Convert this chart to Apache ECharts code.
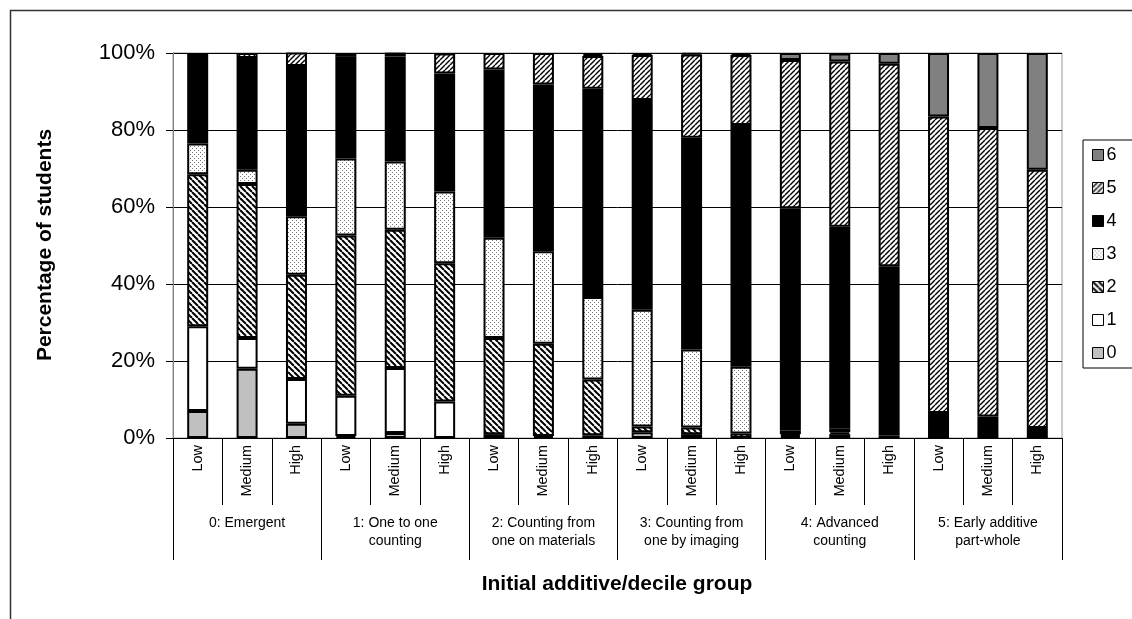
<!DOCTYPE html>
<html><head><meta charset="utf-8">
<script src="https://cdn.jsdelivr.net/npm/echarts@6/dist/echarts.min.js"></script>
<style>html,body{margin:0;padding:0;background:#fff}#c{width:1132px;height:619px}</style>
</head><body><div id="c"></div>
<script>
const categories = ["Low","Medium","High","Low","Medium","High","Low","Medium","High","Low","Medium","High","Low","Medium","High","Low","Medium","High"];
const groups = ["0: Emergent","1: One to one\ncounting","2: Counting from\none on materials","3: Counting from\none by imaging","4: Advanced\ncounting","5: Early additive\npart-whole"];
const seriesNames = ["0","1","2","3","4","5","6"];
const s0 = [7, 18, 3.7, 0.5, 1.3, 0, 0, 0, 0, 1.5, 1, 0, 0.5, 1, 0, 0, 0, 0];
const s1 = [22, 8, 11.6, 10.5, 16.9, 9.5, 1, 0.5, 0.7, 0, 0, 0, 0, 0, 0, 0, 0, 0];
const s2 = [39.5, 40, 27.1, 41.6, 35.9, 35.9, 25, 24, 14.5, 1.5, 1.7, 1.2, 0.5, 0.5, 0, 0, 0, 0];
const s3 = [8, 3.7, 15.2, 20, 17.7, 18.6, 26, 24, 21.4, 30.3, 20.3, 17.3, 1, 1, 0.7, 0, 0, 0];
const s4 = [23.5, 29, 39, 26.4, 27.3, 30.7, 43.7, 43.3, 54.1, 54.5, 55, 62.8, 57.7, 52.4, 43.9, 6.5, 5.6, 2.6];
const s5 = [0, 1.3, 3.5, 1, 1, 5.2, 4.3, 8.2, 8.5, 11.7, 21.6, 18.2, 38.5, 42.9, 52.6, 77, 74.9, 67.1];
const s6 = [0, 0, 0, 0, 0, 0, 0, 0, 0.5, 0.5, 0.4, 0.5, 1.8, 2.1, 2.8, 16.5, 19.5, 30.3];
const yTicks = [0, 20, 40, 60, 80, 100];

function tile(size, draw) {
  const c = document.createElement('canvas');
  c.width = size; c.height = size;
  const g = c.getContext('2d');
  g.fillStyle = '#fff'; g.fillRect(0, 0, size, size);
  draw(g, size);
  return { image: c, repeat: 'repeat' };
}
const patBack = tile(6, (g, s) => {
  g.strokeStyle = '#000'; g.lineWidth = 2;
  for (let k = -s; k <= 2 * s; k += s) { g.beginPath(); g.moveTo(k, 0); g.lineTo(k + s, s); g.stroke(); }
});
const patFwd = tile(5, (g, s) => {
  g.strokeStyle = '#000'; g.lineWidth = 1.4;
  for (let k = -s; k <= 2 * s; k += s) { g.beginPath(); g.moveTo(k, s); g.lineTo(k + s, 0); g.stroke(); }
});
const patDot = tile(4, (g, s) => {
  g.fillStyle = '#777'; g.fillRect(0, 0, 1, 1); g.fillRect(2, 2, 1, 1);
});
const fills = ['#c0c0c0', '#ffffff', patBack, patDot, '#000000', patFwd, '#808080'];
const data = [s0, s1, s2, s3, s4, s5, s6];

const FONT = 'Liberation Sans, Arial, sans-serif';
const chart = echarts.init(document.getElementById('c'), null, { renderer: 'canvas' });
const series = data.map((arr, i) => ({
  name: seriesNames[i],
  type: 'bar',
  stack: 'total',
  xAxisIndex: 0,
  barWidth: 21,
  data: arr.map(v => v === 0 ? null : v),
  itemStyle: { color: fills[i], borderColor: '#000', borderWidth: 2 },
  emphasis: { disabled: true }
}));

chart.setOption({
  animation: false,
  backgroundColor: '#fff',
  grid: { left: 173, top: 53, right: 70, bottom: 181, show: true, borderColor: '#999', borderWidth: 1 },
  legend: {
    orient: 'vertical', left: 1083, top: 140,
    data: ['6', '5', '4', '3', '2', '1', '0'],
    icon: 'rect', itemWidth: 11, itemHeight: 11, itemGap: 15,
    borderColor: '#000', borderWidth: 1, padding: [6, 30, 6, 9],
    itemStyle: { borderWidth: 1, borderColor: '#000' },
    textStyle: { fontFamily: FONT, fontSize: 18, color: '#000', padding: [0, 0, 0, -2] }
  },
  xAxis: [{
    type: 'category', data: categories, position: 'bottom',
    axisLine: { lineStyle: { color: '#000', width: 1 } },
    axisTick: { show: true, interval: 0, length: 67, lineStyle: { color: '#000' } },
    axisLabel: { interval: 0, rotate: 90, margin: 7, fontFamily: FONT, fontSize: 14.5, color: '#000' }
  }, {
    type: 'category', data: groups, position: 'bottom', offset: 0,
    axisLine: { show: false },
    axisTick: { show: true, interval: 0, length: 122, lineStyle: { color: '#000' } },
    axisLabel: { interval: 0, margin: 76, fontFamily: FONT, fontSize: 14, color: '#000', lineHeight: 18 }
  }],
  yAxis: {
    type: 'value', min: 0, max: 100, interval: 20,
    axisLine: { show: true, lineStyle: { color: '#808080' } },
    axisTick: { show: true, length: 7, lineStyle: { color: '#000' } },
    splitLine: { lineStyle: { color: '#000', width: 1 } },
    axisLabel: { formatter: '{value}%', margin: 18, fontFamily: FONT, fontSize: 22, color: '#000' }
  },
  graphic: [
    { type: 'rect', shape: { x: 10.5, y: 10.5, width: 1400, height: 900 }, style: { fill: null, stroke: '#333', lineWidth: 1.5 }, silent: true, z: -10 },
    { type: 'text', x: 45, y: 245, rotation: Math.PI / 2, style: { text: 'Percentage of students', font: 'bold 21px ' + FONT, fill: '#000', textAlign: 'center', textVerticalAlign: 'middle' } },
    { type: 'text', x: 617, y: 584, style: { text: 'Initial additive/decile group', font: 'bold 21px ' + FONT, fill: '#000', textAlign: 'center', textVerticalAlign: 'middle' } }
  ],
  series: series
});
</script></body></html>
